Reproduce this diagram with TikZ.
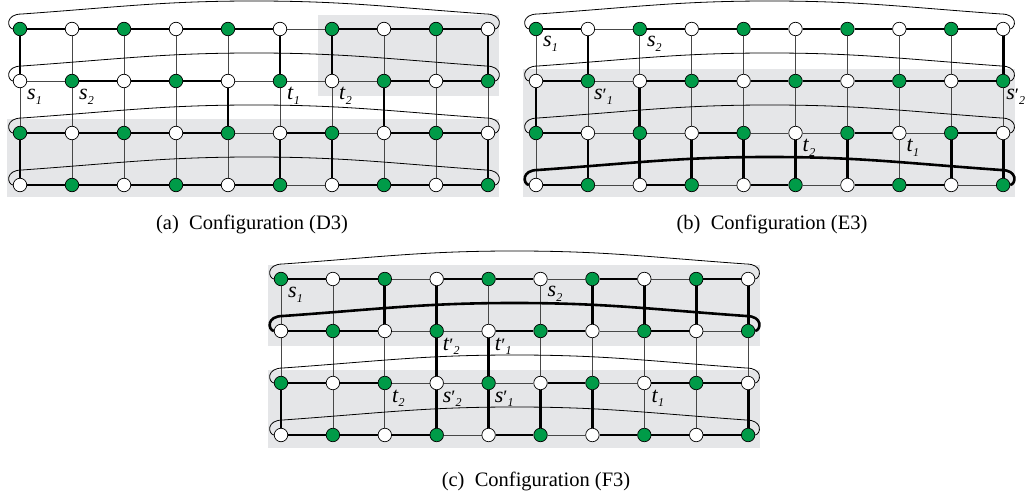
\documentclass[tikz,border=0pt]{standalone}
\usepackage{fontspec}
\setmainfont{Liberation Serif}
\usetikzlibrary{calc}
\pgfdeclarelayer{bg}
\pgfdeclarelayer{edges}
\pgfsetlayers{bg,edges,main}
\definecolor{vgreen}{RGB}{0,155,72}
\definecolor{panelgray}{RGB}{229,230,232}
\newcommand\mkgrid[4]{%
  \foreach \r in {0,...,3}{%
    \foreach \c in {0,...,9}{%
      \pgfmathsetmacro\xx{#2+#3*\c}%
      \pgfmathsetmacro\yy{#4+52*\r}%
      \pgfmathtruncatemacro\pp{mod(\r+\c,2)}%
      \ifnum\pp=0 \node[gv] (#1-\r-\c) at (\xx,\yy) {};\else \node[wv] (#1-\r-\c) at (\xx,\yy) {};\fi
    }}%
  \begin{pgfonlayer}{edges}
  \foreach \r in {0,...,3}{\foreach \c [evaluate=\c as \n using int(\c+1)] in {0,...,8}{\draw[thinE] (#1-\r-\c) -- (#1-\r-\n);}}
  \foreach \r [evaluate=\r as \s using int(\r+1)] in {0,1,2}{\foreach \c in {0,...,9}{\draw[thinE] (#1-\r-\c) -- (#1-\s-\c);}}
  \end{pgfonlayer}}
\newcommand\thH[3]{\begin{pgfonlayer}{edges}\foreach \c [evaluate=\c as \n using int(\c+1)] in {#3}{\draw[thickE] (#1-#2-\c) -- (#1-#2-\n);}\end{pgfonlayer}}
\newcommand\thV[3]{\begin{pgfonlayer}{edges}\pgfmathtruncatemacro\ss{#2+1}\foreach \c in {#3}{\draw[thickE] (#1-#2-\c) -- (#1-\ss-\c);}\end{pgfonlayer}}
\newcommand\arch[3]{%
  \begin{pgfonlayer}{edges}
  \coordinate (amid) at ($(#2)!0.5!(#3)$);
  \draw[#1] (#2.west) .. controls ($(#2)+(-13,-1)$) and ($(#2)+(-15,-15)$) .. ($(#2)+(2,-15)$)
    .. controls ($(#2)+(100,-22)$) and ($(amid)+(-90,-28)$) .. ($(amid)+(0,-28)$)
    .. controls ($(amid)+(90,-28)$) and ($(#3)+(-100,-22)$) .. ($(#3)+(-2,-15)$)
    .. controls ($(#3)+(15,-15)$) and ($(#3)+(13,-1)$) .. (#3.east);
  \end{pgfonlayer}}
\newcommand\lb[2]{\textit{#1}\raisebox{-0.4ex}{\fontsize{12}{12}\selectfont\textit{#2}}}
\newcommand\lbp[2]{\textit{#1}\raisebox{-0.1ex}{\fontsize{19}{19}\selectfont ′}\raisebox{-0.4ex}{\fontsize{12}{12}\selectfont\textit{#2}}}
\begin{document}
\begin{tikzpicture}[x=1pt,y=-1pt,
  vtx/.style={circle,draw=black,line width=0.7pt,minimum size=13.5pt,inner sep=0pt},
  gv/.style={vtx,fill=vgreen},
  wv/.style={vtx,fill=white},
  thinE/.style={draw=black!72,line width=0.8pt},
  thickE/.style={draw=black,line width=2.8pt},
  arcE/.style={draw=black,line width=0.8pt},
  arcT/.style={draw=black,line width=2.6pt},
  lab/.style={anchor=base west,inner sep=0pt,font=\fontsize{22}{22}\selectfont},
  captxt/.style={inner sep=0pt,font=\fontsize{20.5}{24}\selectfont}]
\useasboundingbox (0,0) rectangle (1025,494);
\begin{pgfonlayer}{bg}
  \fill[white] (0,0) rectangle (1025,494);
  \fill[panelgray] (318,15) rectangle (499,96);
  \fill[panelgray] (7,119) rectangle (499,197);
  \fill[panelgray] (523,69) rectangle (1015,197);
  \fill[panelgray] (268,265) rectangle (760,346);
  \fill[panelgray] (268,370) rectangle (760,448);
\end{pgfonlayer}
% ---------- (a)
\mkgrid{a}{20}{52}{29}
\thH{a}{0}{0,1,2,3,4,6,7,8}
\thH{a}{1}{1,2,3,7,8}
\thH{a}{2}{0,1,2,3,5,7,8}
\thH{a}{3}{0,1,2,3,4,6,7,8}
\thV{a}{0}{0,5,6,9}
\thV{a}{1}{4,7}
\thV{a}{2}{0,5,6,9}
\arch{arcE}{a-0-0}{a-0-9}
\arch{arcE}{a-1-0}{a-1-9}
\arch{arcE}{a-2-0}{a-2-9}
\arch{arcE}{a-3-0}{a-3-9}
\node[lab] (la1) at ($(a-1-0)+(7,19)$) {\lb{s}{1}};
\node[lab] (la2) at ($(a-1-1)+(7,19)$) {\lb{s}{2}};
\node[lab] (la3) at ($(a-1-5)+(7,19)$) {\lb{t}{1}};
\node[lab] (la4) at ($(a-1-6)+(7,19)$) {\lb{t}{2}};
\node[captxt] (capa) at (252,224) {(a)\hspace{0.5em}Configuration (D3)};
% ---------- (b)
\mkgrid{b}{536}{51.9}{29}
\thH{b}{0}{0,2,3,4,5,6,7,8}
\thH{b}{1}{0,2,3,4,5,6,7,8}
\thH{b}{2}{0,3,6,8}
\thH{b}{3}{0,2,4,6,7}
\thV{b}{0}{1,9}
\thV{b}{1}{0,2}
\thV{b}{2}{1,2,3,4,5,6,8,9}
\arch{arcE}{b-0-0}{b-0-9}
\arch{arcE}{b-1-0}{b-1-9}
\arch{arcE}{b-2-0}{b-2-9}
\arch{arcT}{b-3-0}{b-3-9}
\node[lab] (lb1) at ($(b-0-0)+(7,18)$) {\lb{s}{1}};
\node[lab] (lb2) at ($(b-0-2)+(7,18)$) {\lb{s}{2}};
\node[lab] (lb3) at ($(b-1-1)+(6,19)$) {\lbp{s}{1}};
\node[lab] (lb4) at ($(b-1-9)+(3,19)$) {\lbp{s}{2}};
\node[lab] (lb5) at ($(b-2-5)+(7,19)$) {\lb{t}{2}};
\node[lab] (lb6) at ($(b-2-7)+(7,19)$) {\lb{t}{1}};
\node[captxt] (capb) at (772,224) {(b)\hspace{0.5em}Configuration (E3)};
% ---------- (c)
\mkgrid{c}{281}{51.9}{279}
\thH{c}{0}{0,1,3,4,6,8}
\thH{c}{1}{0,1,4,5,7}
\thH{c}{2}{0,1,5,7,8}
\thH{c}{3}{0,1,2,4,6,7,8}
\thV{c}{0}{2,3,6,7,8,9}
\thV{c}{1}{3,4}
\thV{c}{2}{0,3,4,5,6,9}
\arch{arcE}{c-0-0}{c-0-9}
\arch{arcT}{c-1-0}{c-1-9}
\arch{arcE}{c-2-0}{c-2-9}
\arch{arcE}{c-3-0}{c-3-9}
\node[lab] (lc1) at ($(c-0-0)+(7,19)$) {\lb{s}{1}};
\node[lab] (lc2) at ($(c-0-5)+(7,18)$) {\lb{s}{2}};
\node[lab] (lc3) at ($(c-1-3)+(6,19)$) {\lbp{t}{2}};
\node[lab] (lc4) at ($(c-1-4)+(6,19)$) {\lbp{t}{1}};
\node[lab] (lc5) at ($(c-2-2)+(7,19)$) {\lb{t}{2}};
\node[lab] (lc6) at ($(c-2-3)+(6,19)$) {\lbp{s}{2}};
\node[lab] (lc7) at ($(c-2-4)+(6,19)$) {\lbp{s}{1}};
\node[lab] (lc8) at ($(c-2-7)+(7,19)$) {\lb{t}{1}};
\node[captxt] (capc) at (536,481) {(c)\hspace{0.5em}Configuration (F3)};
\end{tikzpicture}
\end{document}
